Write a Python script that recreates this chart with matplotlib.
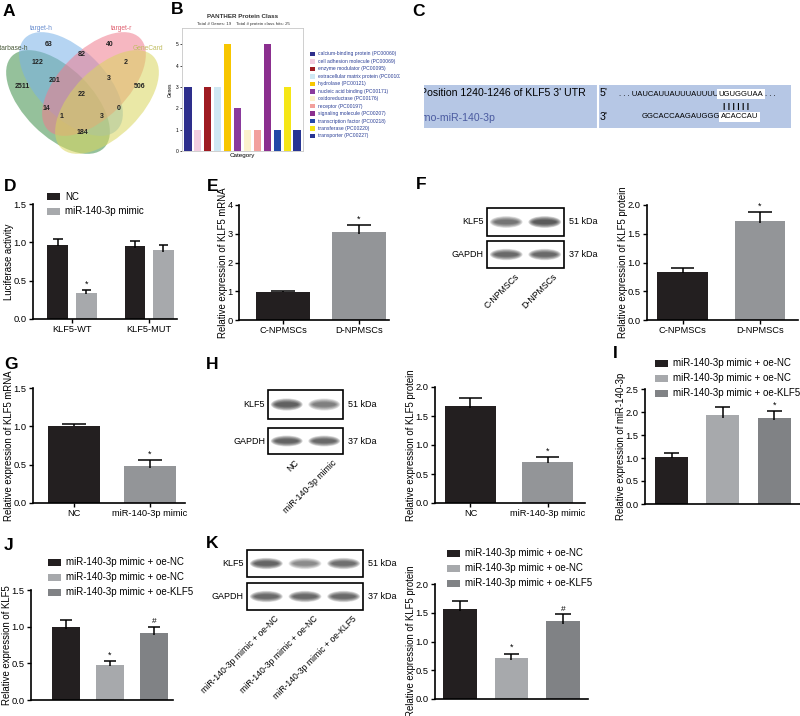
import numpy as np
import matplotlib.pyplot as plt
from matplotlib.patches import Ellipse, Rectangle

plt.rcParams['font.family'] = ['Liberation Sans', 'DejaVu Sans']

W, H = 800, 716
BLACK = '#231f20'
GRAY = '#939598'
LGRAY = '#a7a9ac'
DGRAY = '#808285'

# ---------------- data ----------------
venn_sets = ['starbase-h', 'target-h', 'target-r', 'GeneCard']
venn_set_colors = ['#3f8f4a', '#78b2e8', '#f07c8e', '#d9d65e']
venn_counts = [63, 40, 82, 122, 2, 201, 3, 2511, 506, 22, 14, 0, 1, 3, 184]

panther_classes = ['calcium-binding protein (PC00060)', 'cell adhesion molecule (PC00069)',
                   'enzyme modulator (PC00095)', 'extracellular matrix protein (PC00102)',
                   'hydrolase (PC00121)', 'nucleic acid binding (PC00171)',
                   'oxidoreductase (PC00176)', 'receptor (PC00197)',
                   'signaling molecule (PC00207)', 'transcription factor (PC00218)',
                   'transferase (PC00220)', 'transporter (PC00227)']
panther_genes = [3, 1, 3, 3, 5, 2, 1, 1, 5, 1, 3, 1]
panther_colors = ['#2e2f8c', '#f2cde0', '#9e1b22', '#cfe8f3', '#f7c600', '#8a3a9c',
                  '#fbf1cc', '#f2a09c', '#8b2f8f', '#2349a8', '#f5e616', '#283593']

luc_groups = ['KLF5-WT', 'KLF5-MUT']
luc_series = ['NC', 'miR-140-3p mimic']
luc_nc = [0.97, 0.95]
luc_nc_err = [0.07, 0.07]
luc_mimic = [0.34, 0.90]
luc_mimic_err = [0.04, 0.06]
luc_mimic_marks = ['*', '']

npmsc_groups = ['C-NPMSCs', 'D-NPMSCs']
mrna_npmsc = [0.98, 3.07]
mrna_npmsc_err = [0.02, 0.23]
prot_npmsc = [0.84, 1.73]
prot_npmsc_err = [0.07, 0.14]

mimic_groups = ['NC', 'miR-140-3p mimic']
mrna_mimic = [1.01, 0.48]
mrna_mimic_err = [0.02, 0.08]
prot_mimic = [1.68, 0.71]
prot_mimic_err = [0.13, 0.08]

rescue_groups = ['miR-140-3p mimic + oe-NC', 'miR-140-3p mimic + oe-NC',
                 'miR-140-3p mimic + oe-KLF5']
mir_rescue = [1.02, 1.93, 1.88]
mir_rescue_err = [0.08, 0.17, 0.15]
mir_rescue_marks = ['', '', '*']
mrna_rescue = [1.00, 0.48, 0.91]
mrna_rescue_err = [0.09, 0.05, 0.09]
prot_rescue = [1.57, 0.71, 1.35]
prot_rescue_err = [0.13, 0.08, 0.13]
rescue_marks = ['', '*', '#']

# western blot band strengths (relative darkness)
blot_f_klf5 = [0.75, 1.0]
blot_f_gapdh = [0.85, 0.85]
blot_h_klf5 = [0.95, 0.65]
blot_h_gapdh = [0.9, 0.85]
blot_k_klf5 = [0.9, 0.6, 0.8]
blot_k_gapdh = [0.85, 0.85, 0.85]

# ---------------- helpers ----------------
fig = plt.figure(figsize=(8, 7.16), dpi=100)
ov = fig.add_axes([0, 0, 1, 1])
ov.set_xlim(0, W)
ov.set_ylim(H, 0)
ov.axis('off')


def px_axes(x0, y0, x1, y1):
    ax = fig.add_axes([x0 / W, 1 - y1 / H, (x1 - x0) / W, (y1 - y0) / H])
    ax.set_facecolor('none')
    return ax


def letter(s, x, y):
    ov.text(x, y, s, fontsize=12.5, fontweight='bold', va='top', ha='left')


def style(ax, ylabel):
    ax.spines[['top', 'right']].set_visible(False)
    for s in ['left', 'bottom']:
        ax.spines[s].set_linewidth(1.2)
    ax.tick_params(length=3, width=1, labelsize=6.7, pad=1.5)
    ax.set_ylabel(ylabel, fontsize=6.9, labelpad=-0.5)


def bar_chart(box, pos, vals, errs, colors, xlim, width, ylim, yticks, fmt,
              ylabel, ticklabels=None, marks=None):
    ax = px_axes(*box)
    pos = np.asarray(pos, float)
    vals = np.asarray(vals)
    errs = np.asarray(errs)
    ax.bar(pos, vals, width=width, color=colors, zorder=2)
    top = vals + errs
    cap = width * 0.23
    ax.vlines(pos, vals - errs * 0.3, top, color='k', lw=1.1, zorder=3)
    ax.hlines(top, pos - cap, pos + cap, color='k', lw=1.1, zorder=3)
    if marks:
        for p, t, m in zip(pos, top, marks):
            if m:
                ax.text(p, t + (ylim[1] - ylim[0]) * 0.012, m, ha='center', va='bottom',
                        fontsize=6.5 if m == '*' else 6)
    ax.set_xlim(*xlim)
    ax.set_ylim(*ylim)
    ax.set_yticks(yticks)
    ax.set_yticklabels([fmt.format(t) for t in yticks])
    if ticklabels:
        ax.set_xticks(pos)
        ax.set_xticklabels(ticklabels, fontsize=7)
    else:
        ax.set_xticks([])
    style(ax, ylabel)
    return ax


def legend_rows(x, ys, labels, colors):
    for y, lab, c in zip(ys, labels, colors):
        ov.add_patch(Rectangle((x, y - 3.5), 13, 7, color=c, lw=0))
        ov.text(x + 18, y, lab, va='center', ha='left', fontsize=7)


def band(xc, yc, w, h, strength):
    for k in range(7):
        f = 1 - k * 0.11
        ov.add_patch(Ellipse((xc, yc), w * (0.55 + 0.45 * f), h * f,
                             color='#1a1a1a', alpha=0.16 * strength, lw=0))


def blot(x0, x1, rows, intensities, lanes, kda, lab_fs=6.3):
    n = len(lanes)
    lw_ = (x1 - x0) / n
    for (ya, yb), name, ints, kd in zip(rows, ['KLF5', 'GAPDH'], intensities, kda):
        ov.add_patch(Rectangle((x0, ya), x1 - x0, yb - ya, fc='white', ec='k', lw=1.2,
                               zorder=1))
        for i, s in enumerate(ints):
            band(x0 + (i + 0.5) * lw_, (ya + yb) / 2, lw_ * 0.85, (yb - ya) * 0.42, s)
        ov.text(x0 - 3, (ya + yb) / 2, name, ha='right', va='center', fontsize=6.5)
        ov.text(x1 + 5, (ya + yb) / 2, kd, ha='left', va='center', fontsize=6.5)
    yb = rows[-1][1]
    for i, lab in enumerate(lanes):
        ov.text(x0 + (i + 0.5) * lw_ + 8, yb + 4, lab, rotation=45, ha='right', va='top',
                rotation_mode='anchor', fontsize=lab_fs)


def xl(ax0, ax1, c0, step):
    return ((ax0 - c0) / step, (ax1 - c0) / step)


# ---------------- A: Venn ----------------
letter('A', 3, 4)
venn_geom = [((58, 102), 45), ((71, 84), 45), ((94, 84), -45), ((107, 102), -45)]
for (c, ang), col in zip(venn_geom, venn_set_colors):
    ov.add_patch(Ellipse(c, 130, 68, angle=ang, color=col, alpha=0.55, lw=0))
venn_xy = [(49, 44), (110, 44), (82, 54), (38, 63), (126, 63), (55, 80), (109, 79),
           (22, 86), (140, 86), (82, 95), (46, 108), (119, 108), (61, 117), (102, 117),
           (82, 133)]
for (x, y), n in zip(venn_xy, venn_counts):
    ov.text(x, y, str(n), ha='center', va='center', fontsize=5, fontweight='bold',
            color='#222222')
venn_lab_pos = [(28, 48, 'right'), (30, 28, 'left'), (111, 28, 'left'), (133, 48, 'left')]
venn_lab_col = ['#4a5a3a', '#6a8fd0', '#e06070', '#c0bd60']
for (x, y, ha), lab, col in zip(venn_lab_pos, venn_sets, venn_lab_col):
    ov.text(x, y, lab, ha=ha, va='center', fontsize=4.8, color=col)

# ---------------- B: PANTHER ----------------
letter('B', 171, 2)
axb = px_axes(182, 28, 303, 151)
axb.set_facecolor('white')
axb.bar(np.arange(len(panther_genes)), panther_genes, width=0.72, color=panther_colors)
axb.set_xlim(-0.6, 11.6)
axb.set_ylim(0, 5.77)
axb.set_yticks(range(6))
axb.set_xticks([])
axb.tick_params(labelsize=3.5, length=1.5, width=0.5, pad=1)
for s in axb.spines.values():
    s.set_color('#c8c8c8')
    s.set_linewidth(0.6)
axb.set_ylabel('Genes', fontsize=3.5, labelpad=2)
axb.set_xlabel('Category', fontsize=4.5, labelpad=1.5)
ov.text(243, 17, 'PANTHER Protein Class', ha='center', va='center', fontsize=4.5,
        fontweight='bold', color='#333333')
ov.text(243, 23.5, 'Total # Genes: 19    Total # protein class hits: 25', ha='center',
        va='center', fontsize=3.2, color='#333333')
axleg = px_axes(308, 48, 400, 140)
axleg.set_xlim(308, 400)
axleg.set_ylim(140, 48)
axleg.axis('off')
for i, (lab, col) in enumerate(zip(panther_classes, panther_colors)):
    y = 54 + i * 7.45
    axleg.add_patch(Rectangle((310, y - 2.3), 4.6, 4.6, color=col, lw=0))
    axleg.text(318, y, lab, va='center', ha='left', fontsize=3.6, color='#2b3f96',
               clip_on=True)

# ---------------- C: binding site ----------------
letter('C', 412, 4)
axc = px_axes(424, 85, 791, 128)
axc.set_xlim(424, 791)
axc.set_ylim(128, 85)
axc.set_facecolor('#b6c7e5')
axc.set_xticks([])
axc.set_yticks([])
for s in axc.spines.values():
    s.set_visible(False)
axc.axvline(597.5, color='white', lw=1.5)
axc.text(420.5, 93, "Position 1240-1246 of KLF5 3' UTR", fontsize=7.6, va='center',
         ha='left', clip_on=True)
axc.text(421.5, 118, 'rno-miR-140-3p', fontsize=7.6, va='center', ha='left',
         color='#4a5aa0', clip_on=True)
axc.text(600, 93, "5'", fontsize=7.6, va='center')
axc.text(600, 117, "3'", fontsize=7.6, va='center')
axc.text(718, 94, '. . . UAUCAUUAUUUAUUUU', fontsize=5.5, ha='right', va='center')
axc.text(718.5, 94, 'UGUGGUAA', fontsize=5.5, ha='left', va='center',
         bbox=dict(fc='white', ec='none', pad=1.2))
axc.text(765, 94, '. . .', fontsize=5.5, ha='left', va='center')
axc.text(736, 106, '| | | | | |', fontsize=6, ha='center', va='center', fontweight='bold')
axc.text(720, 117, 'GGCACCAAGAUGGG', fontsize=5.5, ha='right', va='center')
axc.text(720.5, 117, 'ACACCAU', fontsize=5.5, ha='left', va='center',
         bbox=dict(fc='white', ec='none', pad=1.2))

# ---------------- D: luciferase ----------------
letter('D', 4, 179)
gx = np.arange(len(luc_groups))
off = 0.185
wd = 0.27
axd = px_axes(33, 204, 177, 319)
axd.bar(gx - off, luc_nc, width=wd, color=BLACK, zorder=2)
axd.bar(gx + off, luc_mimic, width=wd, color=LGRAY, zorder=2)
for xs, v, e in [(gx - off, luc_nc, luc_nc_err), (gx + off, luc_mimic, luc_mimic_err)]:
    v = np.asarray(v)
    t = v + np.asarray(e)
    axd.vlines(xs, v - 0.02, t, color='k', lw=1.1, zorder=3)
    axd.hlines(t, xs - wd * 0.23, xs + wd * 0.23, color='k', lw=1.1, zorder=3)
for xv, v, e, m in zip(gx + off, luc_mimic, luc_mimic_err, luc_mimic_marks):
    if m:
        axd.text(xv, v + e + 0.02, m, ha='center', va='bottom', fontsize=6.5)
axd.set_xlim(-0.506, 1.36)
axd.set_ylim(0, 1.5)
axd.set_yticks([0, 0.5, 1.0, 1.5])
axd.set_yticklabels(['0.0', '0.5', '1.0', '1.5'])
axd.set_xticks(gx)
axd.set_xticklabels(luc_groups, fontsize=7)
style(axd, 'Luciferase activity')
legend_rows(47, [196.5, 211.5], luc_series, [BLACK, LGRAY])

# ---------------- E ----------------
letter('E', 207, 179)
bar_chart((239, 205, 389, 320), [0, 1], mrna_npmsc, mrna_npmsc_err, [BLACK, GRAY],
          xl(239, 389, 283, 76), 0.70, (0, 4), [0, 1, 2, 3, 4], '{:.0f}',
          'Relative expression of KLF5 mRNA', npmsc_groups, ['', '*'])

# ---------------- F ----------------
letter('F', 416, 177)
blot(487, 564, [(208, 236), (241, 268)], [blot_f_klf5, blot_f_gapdh], npmsc_groups,
     ['51 kDa', '37 kDa'])
bar_chart((647, 205, 798, 320), [0, 1], prot_npmsc, prot_npmsc_err, [BLACK, GRAY],
          xl(647, 798, 682.5, 77.5), 0.65, (0, 2), [0, 0.5, 1.0, 1.5, 2.0], '{:.1f}',
          'Relative expression of KLF5 protein', npmsc_groups, ['', '*'])

# ---------------- G ----------------
letter('G', 4, 357)
bar_chart((33, 388, 185, 503), [0, 1], mrna_mimic, mrna_mimic_err, [BLACK, GRAY],
          xl(33, 185, 74, 76), 0.68, (0, 1.5), [0, 0.5, 1.0, 1.5], '{:.1f}',
          'Relative expression of KLF5 mRNA', mimic_groups, ['', '*'])

# ---------------- H ----------------
letter('H', 206, 357)
blot(268, 343, [(390, 419), (428, 454)], [blot_h_klf5, blot_h_gapdh], mimic_groups,
     ['51 kDa', '37 kDa'])
bar_chart((435, 387, 585, 503), [0, 1], prot_mimic, prot_mimic_err, [BLACK, GRAY],
          xl(435, 585, 470.5, 77), 0.66, (0, 2), [0, 0.5, 1.0, 1.5, 2.0], '{:.1f}',
          'Relative expression of KLF5 protein', mimic_groups, ['', '*'])

# ---------------- I ----------------
letter('I', 613, 346)
rescue_colors = [BLACK, LGRAY, DGRAY]
bar_chart((645, 389, 800, 504), [0, 1, 2], mir_rescue, mir_rescue_err, rescue_colors,
          xl(645, 800, 671.5, 51.3), 0.64, (0, 2.5), [0, 0.5, 1.0, 1.5, 2.0, 2.5],
          '{:.1f}', 'Relative expression of miR-140-3p', None, mir_rescue_marks)
legend_rows(655, [363, 378, 393], rescue_groups, rescue_colors)

# ---------------- J ----------------
letter('J', 4, 538)
bar_chart((31, 590, 173, 700), [0, 1, 2], mrna_rescue, mrna_rescue_err, rescue_colors,
          xl(31, 173, 66, 44), 0.64, (0, 1.5), [0, 0.5, 1.0, 1.5], '{:.1f}',
          'Relative expression of KLF5', None, rescue_marks)
legend_rows(48, [562, 577, 592], rescue_groups, rescue_colors)

# ---------------- K ----------------
letter('K', 206, 536)
blot(247, 363, [(550, 577), (583, 610)], [blot_k_klf5, blot_k_gapdh], rescue_groups,
     ['51 kDa', '37 kDa'], lab_fs=6.2)
bar_chart((435, 584, 588, 699), [0, 1, 2], prot_rescue, prot_rescue_err, rescue_colors,
          xl(435, 588, 460, 51.5), 0.65, (0, 2), [0, 0.5, 1.0, 1.5, 2.0], '{:.1f}',
          'Relative expression of KLF5 protein', None, rescue_marks)
legend_rows(447, [553, 568, 583], rescue_groups, rescue_colors)

fig.savefig('out.png', dpi=100)
